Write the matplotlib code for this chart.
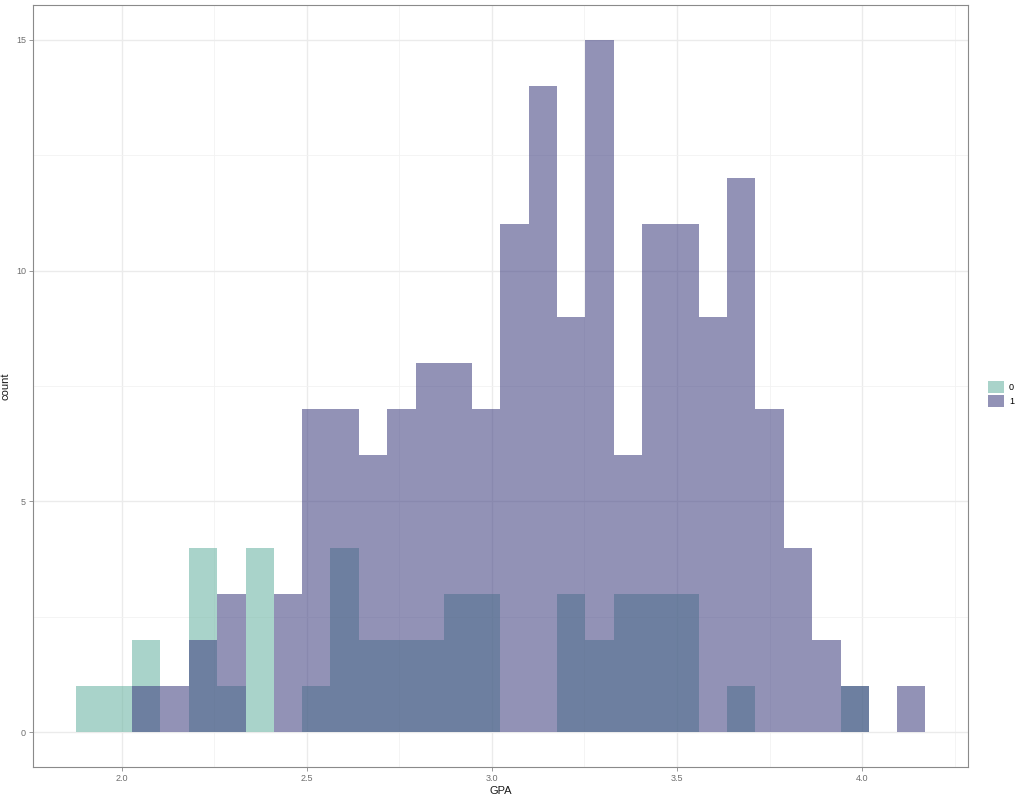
import matplotlib
matplotlib.use("Agg")
import matplotlib.pyplot as plt
import numpy as np
from matplotlib.patches import Patch

plt.rcParams['font.family'] = ['Liberation Sans', 'DejaVu Sans']

# Histogram data (30 bins)
bin_first_center = 1.914
bin_width = 0.0765
counts_0 = [1, 1, 2, 0, 4, 1, 4, 0, 1, 4, 2, 2, 2, 3, 3, 0, 0, 3, 2, 3, 3, 3, 0, 1, 0, 0, 0, 1, 0, 0]
counts_1 = [0, 0, 1, 1, 2, 3, 0, 3, 7, 7, 6, 7, 8, 8, 7, 11, 14, 9, 15, 6, 11, 11, 9, 12, 7, 4, 2, 1, 0, 1]
groups = ['0', '1']
colors = ['#69b3a2', '#404080']
x_ticks = [2.0, 2.5, 3.0, 3.5, 4.0]
x_tick_labels = ['2.0', '2.5', '3.0', '3.5', '4.0']
y_ticks = [0, 5, 10, 15]
y_tick_labels = ['0', '5', '10', '15']

ALPHA = 0.57
n = len(counts_0)
edges = bin_first_center - bin_width/2 + bin_width * np.arange(n + 1)

fig = plt.figure(figsize=(10.24, 8.0), dpi=100)
ax = fig.add_axes([33/1024, 1 - 767/800, (968-33)/1024, (767-5)/800])

for cnt, col in zip([counts_0, counts_1], colors):
    ax.stairs(cnt, edges, fill=True, color=col, alpha=ALPHA, linewidth=0, zorder=3)

lo, hi = edges[0], edges[-1]
pad = (hi - lo) * 0.05
ax.set_xlim(lo - pad, hi + pad)
ax.set_ylim(-0.75, 15.75)

ax.set_xticks(x_ticks)
ax.set_xticklabels(x_tick_labels)
ax.set_yticks(y_ticks)
ax.set_yticklabels(y_tick_labels)
ax.set_xticks([2.25, 2.75, 3.25, 3.75, 4.25], minor=True)
ax.set_yticks([2.5, 7.5, 12.5], minor=True)
ax.grid(which='major', color='#ebebeb', linewidth=1.0, zorder=0)
ax.grid(which='minor', color='#f2f2f2', linewidth=0.6, zorder=0)
ax.set_axisbelow(True)
ax.tick_params(which='minor', length=0)
ax.tick_params(which='major', length=3, width=0.6, color='#8a8a8a',
               labelsize=6.5, labelcolor='#6e6e6e', pad=2)
for s in ax.spines.values():
    s.set_color('#8a8a8a')
    s.set_linewidth(0.8)

ax.set_xlabel('GPA', fontsize=8, labelpad=2, color='#1a1a1a')
ax.set_ylabel('count', fontsize=8, labelpad=4, color='#1a1a1a')

handles = [Patch(facecolor=c, alpha=ALPHA, linewidth=0) for c in colors]
fig.legend(handles, groups, loc='center left', bbox_to_anchor=(982/1024, 1 - 394/800),
           frameon=False, fontsize=6.5, handlelength=1.7, handleheight=1.7,
           labelspacing=0.15, handletextpad=0.6, borderpad=0.2)

fig.savefig('out.png', dpi=100)
